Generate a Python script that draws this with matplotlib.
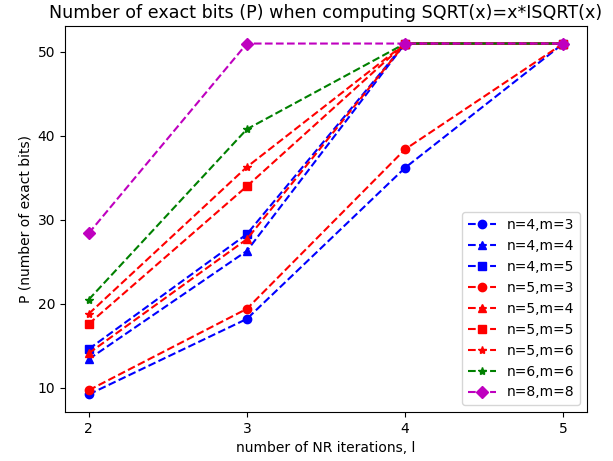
import matplotlib
matplotlib.use("Agg")
import matplotlib.pyplot as plt

iterations = [2, 3, 4, 5]
labels = ["n=4,m=3", "n=4,m=4", "n=4,m=5", "n=5,m=3", "n=5,m=4",
          "n=5,m=5", "n=5,m=6", "n=6,m=6", "n=8,m=8"]
p_n4m3 = [9.2, 18.2, 36.2, 51]
p_n4m4 = [13.4, 26.3, 51, 51]
p_n4m5 = [14.6, 28.3, 51, 51]
p_n5m3 = [9.7, 19.4, 38.4, 51]
p_n5m4 = [14.1, 27.7, 51, 51]
p_n5m5 = [17.6, 34.0, 51, 51]
p_n5m6 = [18.8, 36.3, 51, 51]
p_n6m6 = [20.5, 40.8, 51, 51]
p_n8m8 = [28.4, 51, 51, 51]

series = [p_n4m3, p_n4m4, p_n4m5, p_n5m3, p_n5m4, p_n5m5, p_n5m6, p_n6m6, p_n8m8]
styles = ["bo--", "b^--", "bs--", "ro--", "r^--", "rs--", "r*--", "g*--", "mD--"]

fig = plt.figure(figsize=(6.13, 4.61), dpi=100)
ax = fig.add_axes([0.1060, 0.1063, 0.8516, 0.8373])
for vals, st, lab in zip(series, styles, labels):
    ax.plot(iterations, vals, st, label=lab)
ax.set_xticks(iterations)
ax.set_xlabel("number of NR iterations, l")
ax.set_ylabel("P (number of exact bits)")
ax.set_title("Number of exact bits (P) when computing SQRT(x)=x*ISQRT(x)", fontsize=12.6)
ax.legend(loc="lower right")
fig.savefig("out.png", dpi=100)
